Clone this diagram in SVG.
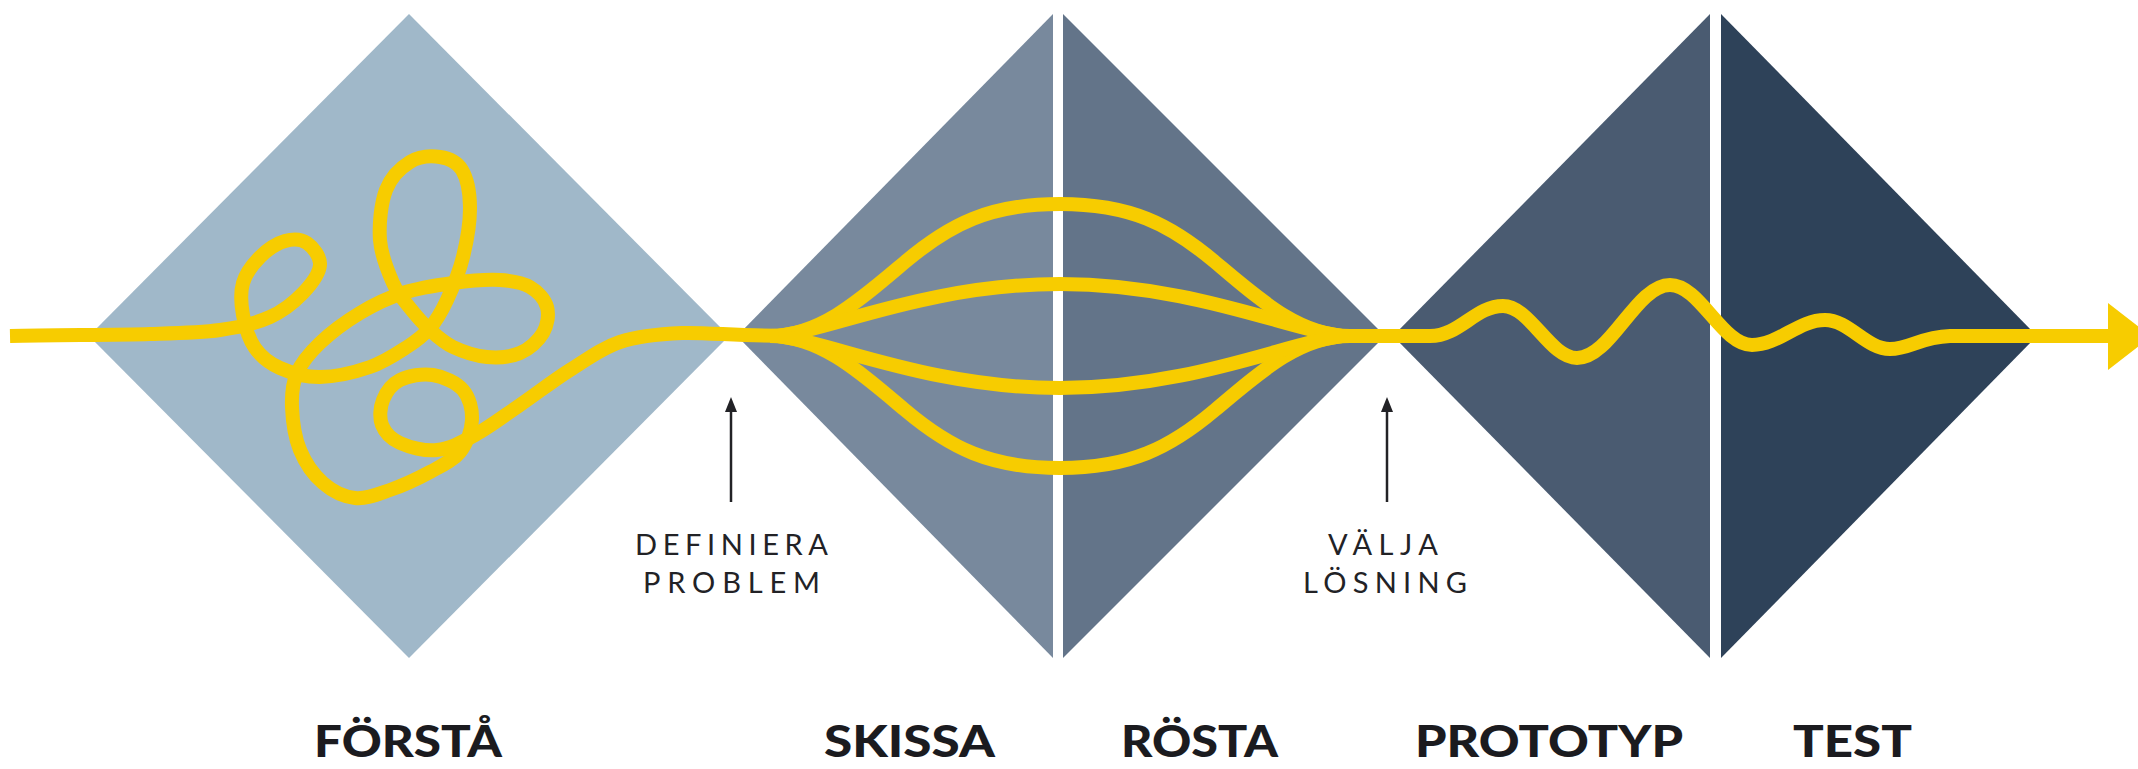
<svg xmlns="http://www.w3.org/2000/svg" width="2138" height="769" viewBox="0 0 2138 769">
  <style>
    .flow { fill: none; stroke: #f7cc00; stroke-width: 14; stroke-linecap: butt; stroke-linejoin: round; }
    .ptr { stroke: #222226; stroke-width: 2.5; fill: none; }
    .ptrhead { fill: #222226; }
    .phase { font-family: Lato, "Liberation Sans", sans-serif; font-weight: 900; font-size: 44px; fill: #1b1b1f; }
    .note { font-family: Lato, "Liberation Sans", sans-serif; font-weight: 400; font-size: 29px; fill: #222226; }
  </style>
  <rect width="2138" height="769" fill="#ffffff"/>

  <g id="forsta">
    <polygon points="409,14 729,336 409,658 89,336" fill="#a0b8c9"/>
    <text class="phase" x="314" y="757" textLength="188" lengthAdjust="spacingAndGlyphs">FÖRSTÅ</text>
  </g>

  <g id="skissa">
    <polygon points="737,336 1053,14 1053,658" fill="#78899d"/>
    <text class="phase" x="824" y="757" textLength="171" lengthAdjust="spacingAndGlyphs">SKISSA</text>
  </g>

  <g id="rosta">
    <polygon points="1063,14 1385,336 1063,658" fill="#637489"/>
    <text class="phase" x="1121" y="757" textLength="157" lengthAdjust="spacingAndGlyphs">RÖSTA</text>
  </g>

  <g id="prototyp">
    <polygon points="1393,336 1710,14 1710,658" fill="#4a5b71"/>
    <text class="phase" x="1415" y="757" textLength="268" lengthAdjust="spacingAndGlyphs">PROTOTYP</text>
  </g>

  <g id="test">
    <polygon points="1721,14 2037,336 1721,658" fill="#2e4259"/>
    <text class="phase" x="1793" y="757" textLength="119" lengthAdjust="spacingAndGlyphs">TEST</text>
  </g>

  <g id="definiera-problem">
    <line class="ptr" x1="731" y1="502" x2="731" y2="408"/>
    <polygon class="ptrhead" points="731,397 725,412 737,412"/>
    <text class="note" x="635" y="555" textLength="193" lengthAdjust="spacing">DEFINIERA</text>
    <text class="note" x="643" y="593" textLength="177" lengthAdjust="spacing">PROBLEM</text>
  </g>

  <g id="valja-losning">
    <line class="ptr" x1="1387" y1="502" x2="1387" y2="408"/>
    <polygon class="ptrhead" points="1387,397 1381,412 1393,412"/>
    <text class="note" x="1328" y="555" textLength="110" lengthAdjust="spacing">VÄLJA</text>
    <text class="note" x="1303" y="593" textLength="164" lengthAdjust="spacing">LÖSNING</text>
  </g>

  <g id="connectors">
    <path class="flow" d="M 10 336
      C 57 335, 115 335, 150 334
      S 200 332.8, 220 330
      S 256.2 323.2, 270 317
      S 294.7 301.7, 303 293
      S 319.3 273.3, 320 265
      S 312.8 247, 307 243
      S 292.8 238.7, 285 241
      S 267 250, 260 257
      S 245.8 273.3, 243 283
      S 241 304.2, 243 315
      S 248.8 339.2, 255 348
      S 269.2 363.2, 280 368
      S 305 377.2, 320 377
      S 355.5 372, 370 367
      S 397 353.5, 407 347
      S 423.3 335.8, 430 328
      S 441.5 311.8, 447 300
      S 459.2 272.5, 463 257
      S 470.2 221.5, 470 207
      S 467 178.3, 462 170
      S 448.7 158.3, 440 157
      S 419 156.5, 410 162
      S 391 177, 386 190
      S 378.8 224.5, 380 240
      S 388 271.7, 393 283
      S 403.8 300.2, 410 308
      S 422.8 323.5, 430 330
      S 443.5 342.5, 453 347
      S 475.8 356, 487 357
      S 510.7 357, 520 353
      S 538.5 340.7, 543 333
      S 549.2 314.7, 547 307
      S 537.8 291.5, 530 287
      S 512.8 280.7, 500 280
      S 469.2 280.8, 453 283
      S 418.5 288, 403 293
      S 373.8 304.7, 360 313
      S 330.5 333, 320 343
      S 301.7 362.3, 297 373
      S 291.5 394.2, 292 407
      S 294.8 437.3, 300 450
      S 313.8 475, 323 483
      S 343.8 496.8, 355 498
      S 377.5 494.3, 390 490
      S 418.3 478.3, 430 472
      S 453 460.7, 460 452
      S 471.5 430.3, 472 420
      S 469.5 397.5, 463 390
      S 443.5 376.7, 433 375
      S 408.3 375.8, 400 380
      S 386 392.5, 383 400
      S 379.2 417.8, 382 425
      S 390.8 438.8, 400 443
      S 424.5 451.3, 437 450
      S 461.2 442.5, 475 435
      S 504.2 415.8, 520 405
      S 553.3 380.5, 570 370
      S 601.3 348.2, 620 342
      S 661.2 334, 682 333
      S 740 336, 790 336"/>
    <path class="flow" d="M 770 336 C 820 336, 860 300, 905 262 C 950 224, 990 204, 1060 204 C 1130 204, 1170 224, 1215 262 C 1260 300, 1300 336, 1350 336"/>
    <path class="flow" d="M 770 336 C 820 336, 860 372, 905 410 C 950 448, 990 468, 1060 468 C 1130 468, 1170 448, 1215 410 C 1260 372, 1300 336, 1350 336"/>
    <path class="flow" d="M 778 336 C 830 330, 930 284, 1060 284 C 1190 284, 1290 330, 1342 336"/>
    <path class="flow" d="M 778 336 C 830 342, 930 388, 1060 388 C 1190 388, 1290 342, 1342 336"/>
    <path class="flow" d="M 1330 336 L 1430 336
      C 1460 336, 1475 306, 1503 306
      C 1530 306, 1550 358, 1577 358
      C 1611 358, 1636 285, 1670 285
      C 1700 285, 1722 345, 1752 345
      C 1779 345, 1798 320, 1825 320
      C 1849 320, 1866 349, 1890 349
      C 1910 349, 1920 337, 1950 336
      L 2112 336"/>
    <polygon points="2108,303 2151,336.5 2108,370" fill="#f7cc00"/>
  </g>
</svg>
